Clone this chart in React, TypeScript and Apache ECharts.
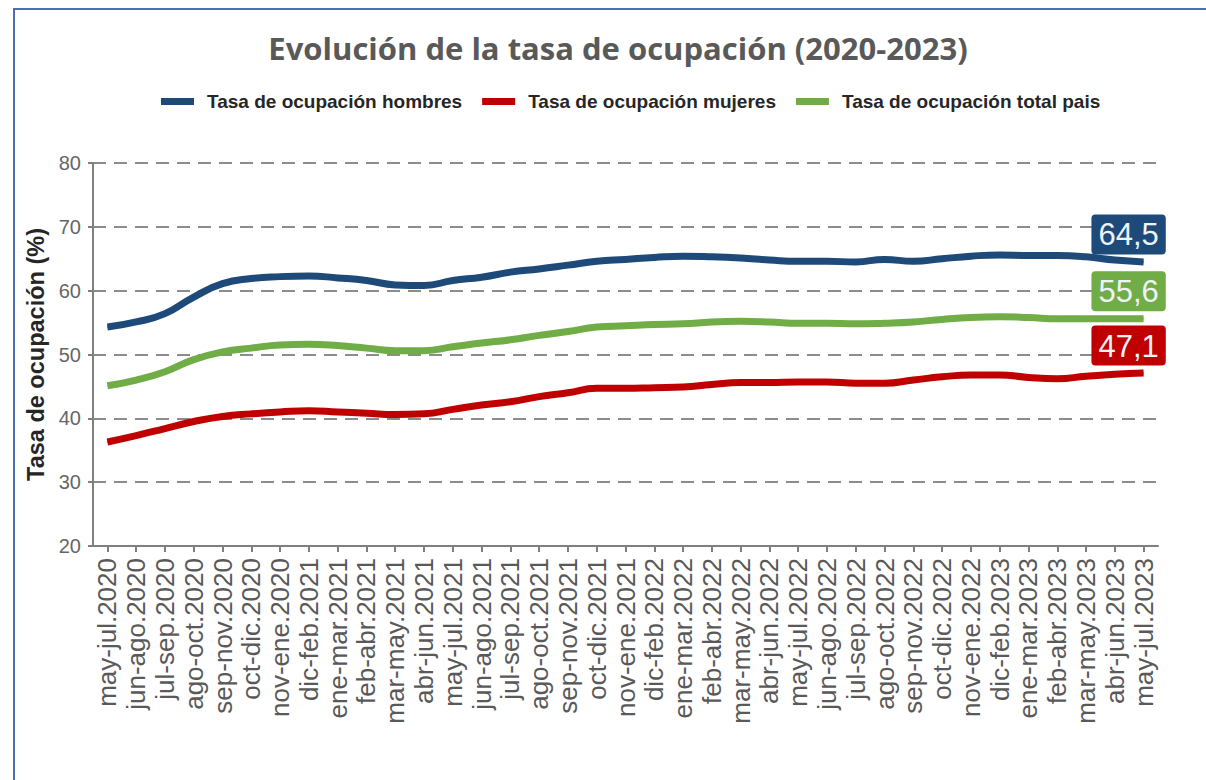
import React, { useEffect, useRef } from "react";
import * as echarts from "echarts";

const categories = [
  "may-jul.2020", "jun-ago.2020", "jul-sep.2020", "ago-oct.2020", "sep-nov.2020", "oct-dic.2020",
  "nov-ene.2020", "dic-feb.2021", "ene-mar.2021", "feb-abr.2021", "mar-may.2021", "abr-jun.2021",
  "may-jul.2021", "jun-ago.2021", "jul-sep.2021", "ago-oct.2021", "sep-nov.2021", "oct-dic.2021",
  "nov-ene.2021", "dic-feb.2022", "ene-mar.2022", "feb-abr.2022", "mar-may.2022", "abr-jun.2022",
  "may-jul.2022", "jun-ago.2022", "jul-sep.2022", "ago-oct.2022", "sep-nov.2022", "oct-dic.2022",
  "nov-ene.2022", "dic-feb.2023", "ene-mar.2023", "feb-abr.2023", "mar-may.2023", "abr-jun.2023",
  "may-jul.2023",
];

const hombres = [
  54.3, 55.1, 56.4, 59.0, 61.1, 61.9, 62.2, 62.3, 62.0, 61.6, 60.9, 60.8,
  61.6, 62.1, 62.9, 63.4, 64.0, 64.6, 64.9, 65.2, 65.4, 65.3, 65.1, 64.8,
  64.6, 64.6, 64.5, 64.9, 64.6, 65.0, 65.4, 65.6, 65.5, 65.5, 65.3, 64.8,
  64.5,
];

const mujeres = [
  36.3, 37.3, 38.4, 39.5, 40.3, 40.7, 41.0, 41.2, 41.0, 40.8, 40.6, 40.7,
  41.4, 42.1, 42.6, 43.4, 44.0, 44.7, 44.7, 44.8, 44.9, 45.3, 45.6, 45.6,
  45.7, 45.7, 45.5, 45.5, 46.0, 46.5, 46.8, 46.8, 46.4, 46.2, 46.6, 46.9,
  47.1,
];

const totalPais = [
  45.1, 46.0, 47.3, 49.2, 50.4, 51.0, 51.5, 51.6, 51.4, 51.0, 50.6, 50.6,
  51.2, 51.8, 52.3, 53.0, 53.6, 54.3, 54.5, 54.7, 54.8, 55.1, 55.2, 55.1,
  54.9, 54.9, 54.8, 54.9, 55.1, 55.5, 55.8, 55.9, 55.8, 55.6, 55.6, 55.6,
  55.6,
];

const seriesNames = [
  "Tasa de ocupación hombres",
  "Tasa de ocupación mujeres",
  "Tasa de ocupación total pais",
];
const seriesColors = ["#1d4a78", "#c00000", "#70ad47"];
const yTicks = { min: 20, max: 80, interval: 10 };

const fmt = (v: number) => v.toFixed(1).replace(".", ",");

function buildData(values: number[], color: string) {
  const last = values.length - 1;
  return values.map((v, i) =>
    i === last
      ? {
          value: v,
          label: {
            show: true,
            position: "top",
            distance: 7,
            offset: [-15, 0],
            formatter: () => fmt(v),
            backgroundColor: color,
            color: "#eef3f8",
            fontSize: 31,
            fontFamily: "Liberation Sans",
            lineHeight: 33,
            padding: [4, 7, 3, 7],
            borderRadius: 4,
          },
        }
      : v
  );
}

export default function App() {
  const ref = useRef<HTMLDivElement>(null);

  useEffect(() => {
    if (!ref.current) return;
    const chart = echarts.init(ref.current, undefined, { renderer: "svg" });
    const allValues = [hombres, mujeres, totalPais];
    chart.setOption({
      animation: false,
      backgroundColor: "#ffffff",
      title: {
        text: "Evolución de la tasa de ocupación (2020-2023)",
        left: 613,
        textAlign: "center",
        top: 27,
        textStyle: {
          fontFamily: "Open Sans",
          fontWeight: "bold",
          fontSize: 31,
          color: "#595959",
        },
      },
      legend: {
        data: seriesNames,
        left: 156,
        top: 87,
        icon: "rect",
        itemWidth: 33,
        itemHeight: 7,
        itemGap: 20,
        textStyle: {
          fontFamily: "Liberation Sans",
          fontWeight: "bold",
          fontSize: 19,
          color: "#262626",
          padding: [0, 0, 0, 8],
        },
      },
      grid: { left: 93, right: 48, top: 163, bottom: 234, containLabel: false },
      xAxis: {
        type: "category",
        data: categories,
        boundaryGap: true,
        axisLine: { show: true, lineStyle: { color: "#7f7f7f", width: 2 } },
        axisTick: { show: true, alignWithLabel: true, length: 6, lineStyle: { color: "#7f7f7f", width: 2 } },
        axisLabel: {
          rotate: 90,
          interval: 0,
          margin: 12,
          fontFamily: "Liberation Sans",
          fontSize: 26,
          color: "#595959",
        },
        splitLine: { show: false },
      },
      yAxis: {
        type: "value",
        min: yTicks.min,
        max: yTicks.max,
        interval: yTicks.interval,
        name: "Tasa de ocupación (%)",
        nameLocation: "middle",
        nameGap: 31,
        nameTextStyle: {
          fontFamily: "Liberation Sans",
          fontWeight: "bold",
          fontSize: 23.5,
          color: "#262626",
        },
        axisLine: { show: true, lineStyle: { color: "#7f7f7f", width: 2 } },
        axisTick: { show: true, length: 5, lineStyle: { color: "#7f7f7f", width: 2 } },
        axisLabel: {
          margin: 12,
          fontFamily: "Liberation Sans",
          fontSize: 20,
          color: "#666666",
        },
        splitLine: {
          show: true,
          lineStyle: { color: "#8c8c8c", width: 2, type: [13, 8] },
        },
      },
      graphic: [
        {
          type: "rect",
          z: 100,
          shape: { x: 14, y: 9, width: 1400, height: 1000 },
          style: { fill: "none", stroke: "#4a6db5", lineWidth: 2 },
          silent: true,
        },
      ],
      series: seriesNames.map((name, k) => ({
        name,
        type: "line",
        smooth: true,
        data: buildData(allValues[k], seriesColors[k]),
        showSymbol: true,
        showAllSymbol: true,
        symbol: "circle",
        symbolSize: 1,
        lineStyle: { width: 7, color: seriesColors[k] },
        itemStyle: { color: seriesColors[k] },
        emphasis: { disabled: true },
      })),
    });
    return () => chart.dispose();
  }, []);

  return (
    <div
      style={{ position: "fixed", left: 0, top: 0, width: 1206, height: 780, background: "#fff" }}
    >
      <div ref={ref} style={{ width: 1206, height: 780 }} />
    </div>
  );
}
